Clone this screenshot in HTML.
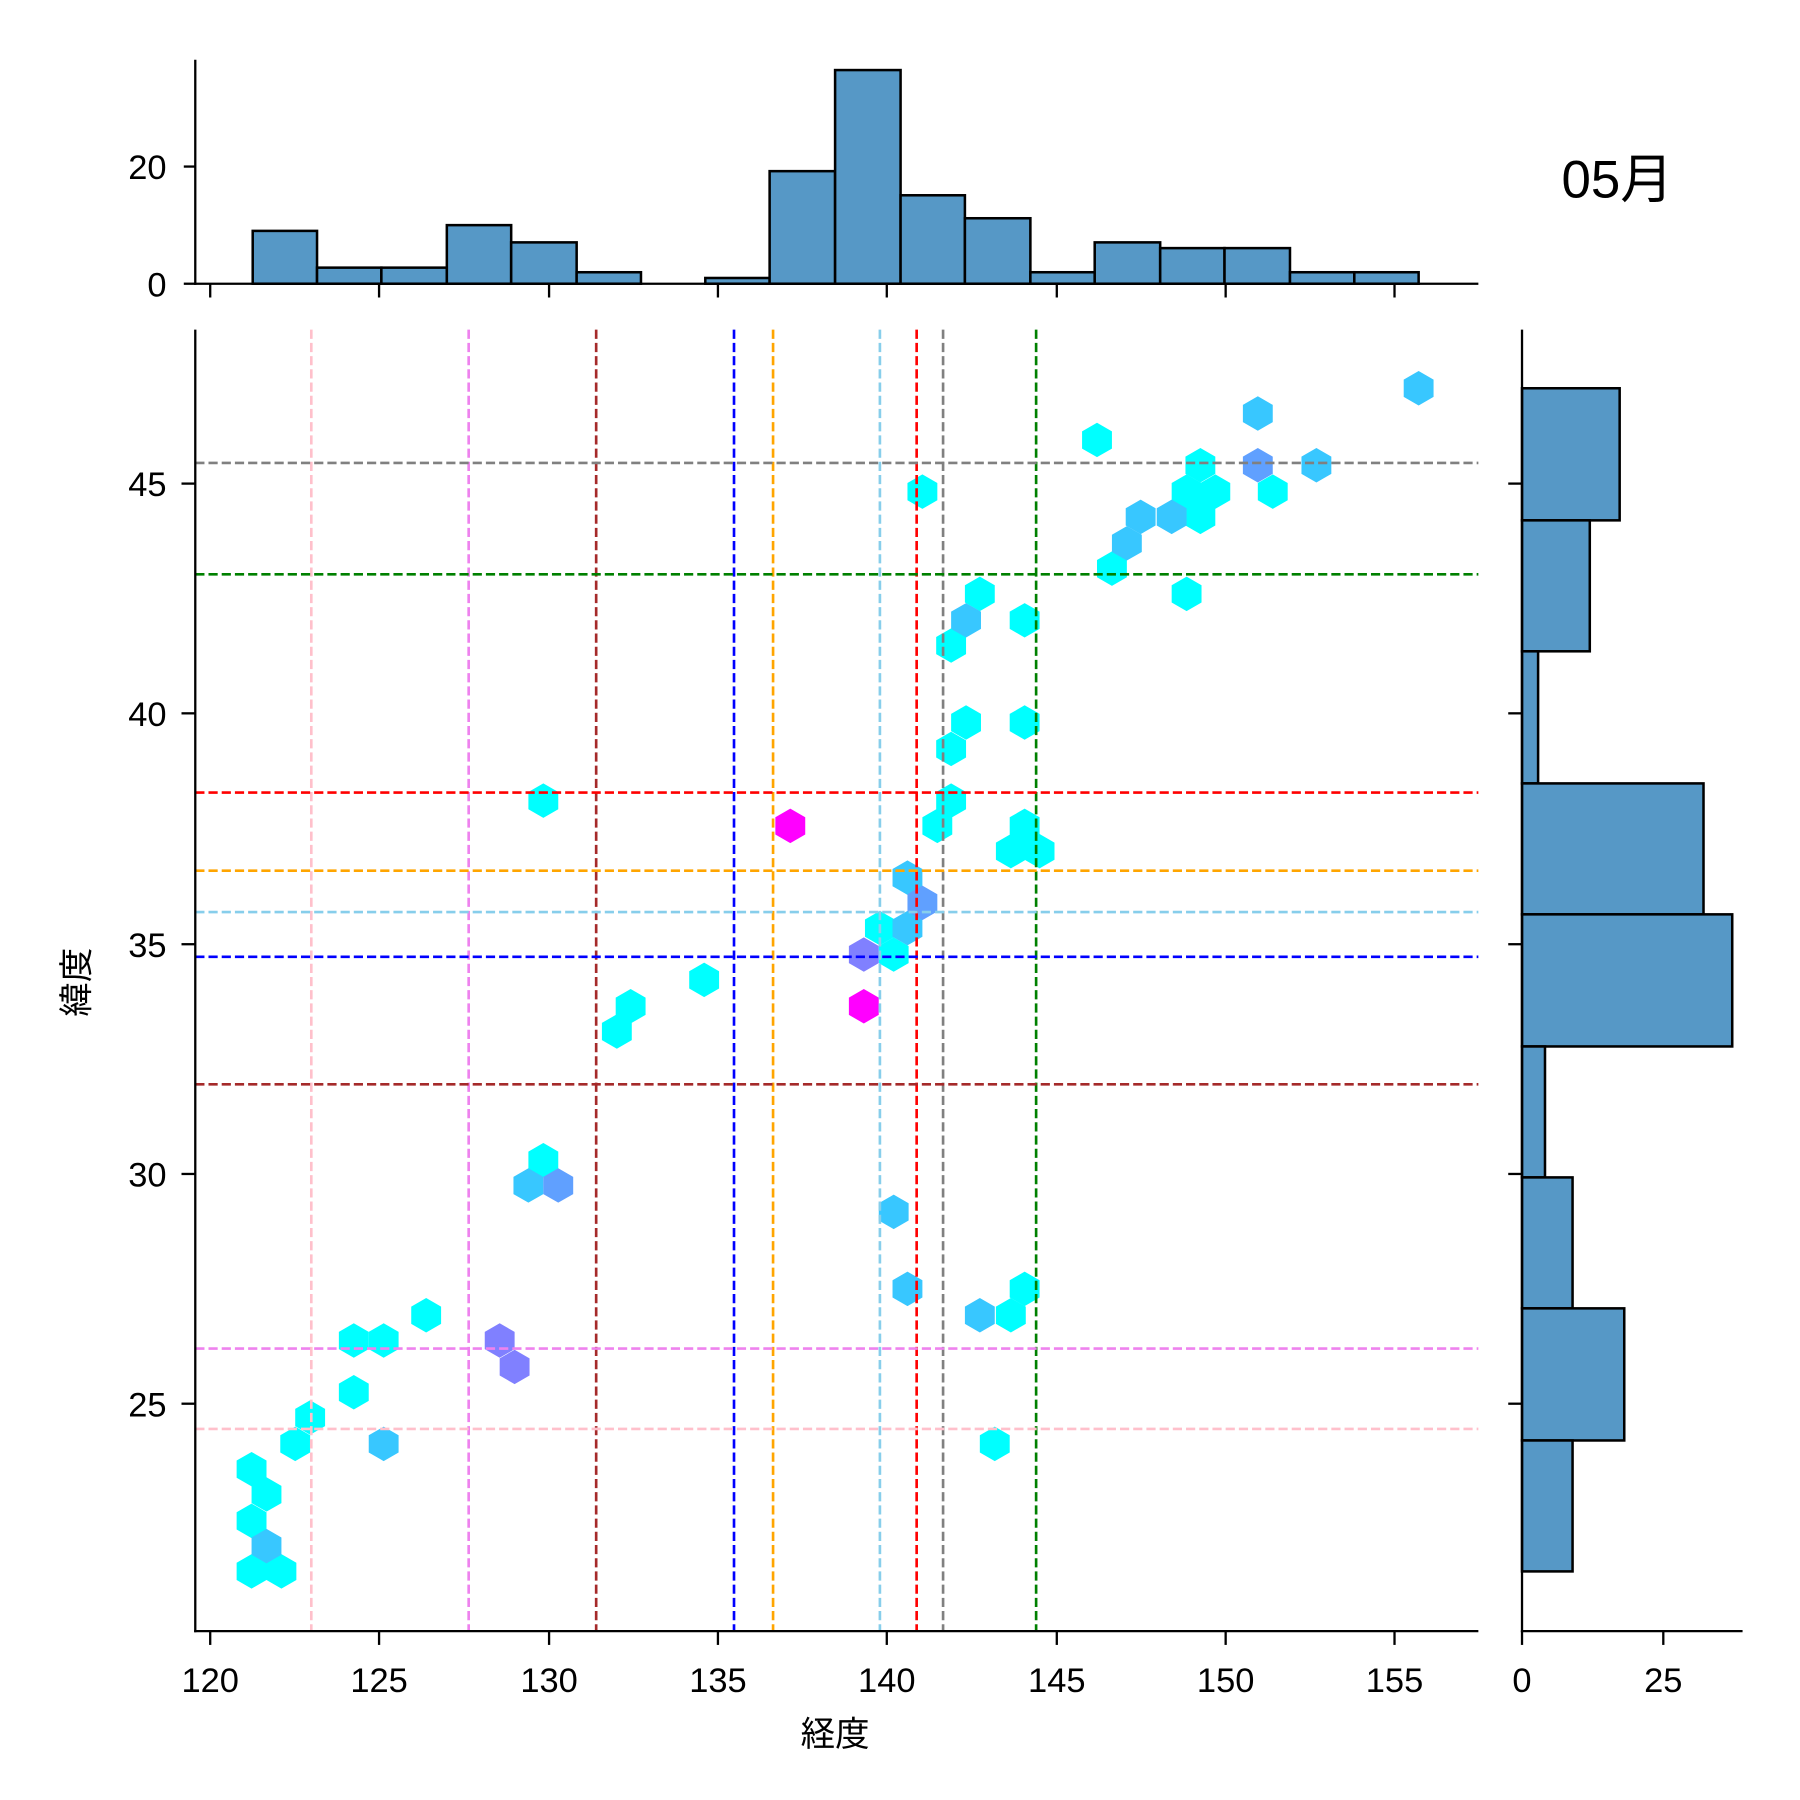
<!DOCTYPE html>
<html><head><meta charset="utf-8"><style>html,body{margin:0;padding:0;background:#fff}svg{display:block}</style></head>
<body>
<svg xmlns="http://www.w3.org/2000/svg" width="1800" height="1800" viewBox="0 0 1567 1567" font-family="'Liberation Sans','Noto Sans CJK JP',sans-serif">
<defs><polygon id="h" points="0,-15 13,-7.5 13,7.5 0,15 -13,7.5 -13,-7.5"/></defs>
<rect width="1567" height="1567" fill="#fff"/>
<!-- top hist -->
<g fill="#5698c6" stroke="#000" stroke-width="2.2">
<rect x="220" y="201" width="56" height="46"/>
<rect x="276" y="233" width="56" height="14"/>
<rect x="332" y="233" width="57" height="14"/>
<rect x="389" y="196" width="56" height="51"/>
<rect x="445" y="211" width="57" height="36"/>
<rect x="502" y="237" width="56" height="10"/>
<rect x="614" y="242" width="56" height="5"/>
<rect x="670" y="149" width="57" height="98"/>
<rect x="727" y="61" width="57" height="186"/>
<rect x="784" y="170" width="56" height="77"/>
<rect x="840" y="190" width="57" height="57"/>
<rect x="897" y="237" width="56" height="10"/>
<rect x="953" y="211" width="57" height="36"/>
<rect x="1010" y="216" width="56" height="31"/>
<rect x="1066" y="216" width="57" height="31"/>
<rect x="1123" y="237" width="56" height="10"/>
<rect x="1179" y="237" width="56" height="10"/>
</g>
<g stroke="#000" stroke-width="2">
<line x1="170" y1="52" x2="170" y2="248"/><line x1="169" y1="247" x2="1287" y2="247"/>
<line x1="160" y1="145" x2="170" y2="145"/><line x1="160" y1="247" x2="170" y2="247"/>
<line x1="183" y1="247" x2="183" y2="259"/><line x1="330" y1="247" x2="330" y2="259"/><line x1="478" y1="247" x2="478" y2="259"/><line x1="625" y1="247" x2="625" y2="259"/><line x1="772" y1="247" x2="772" y2="259"/><line x1="920" y1="247" x2="920" y2="259"/><line x1="1067" y1="247" x2="1067" y2="259"/><line x1="1214" y1="247" x2="1214" y2="259"/>
</g>
<g font-size="30" text-anchor="end"><text x="145" y="156">20</text><text x="145" y="258">0</text></g>
<text x="1408" y="172" font-size="46" text-anchor="middle">05月</text>
<!-- right hist -->
<g fill="#5698c6" stroke="#000" stroke-width="2.2">
<rect x="1325" y="338" width="85" height="115"/>
<rect x="1325" y="453" width="59" height="114"/>
<rect x="1325" y="567" width="14" height="115"/>
<rect x="1325" y="682" width="158" height="114"/>
<rect x="1325" y="796" width="183" height="115"/>
<rect x="1325" y="911" width="20" height="114"/>
<rect x="1325" y="1025" width="44" height="114"/>
<rect x="1325" y="1139" width="89" height="115"/>
<rect x="1325" y="1254" width="44" height="114"/>
</g>
<g stroke="#000" stroke-width="2">
<line x1="1325" y1="287" x2="1325" y2="1421"/><line x1="1324" y1="1420" x2="1517" y2="1420"/>
<line x1="1313" y1="421" x2="1325" y2="421"/><line x1="1313" y1="621" x2="1325" y2="621"/><line x1="1313" y1="822" x2="1325" y2="822"/><line x1="1313" y1="1022" x2="1325" y2="1022"/><line x1="1313" y1="1222" x2="1325" y2="1222"/>
<line x1="1325" y1="1420" x2="1325" y2="1432"/><line x1="1448" y1="1420" x2="1448" y2="1432"/>
</g>
<g font-size="30" text-anchor="middle"><text x="1325" y="1473">0</text><text x="1448" y="1473">25</text></g>
<!-- hexbins -->
<g fill="#0ff">
<use href="#h" x="955" y="383"/><use href="#h" x="1045" y="405"/><use href="#h" x="1033" y="428"/><use href="#h" x="1058" y="428"/><use href="#h" x="1045" y="450"/><use href="#h" x="1108" y="428"/><use href="#h" x="968" y="495"/><use href="#h" x="1033" y="517"/><use href="#h" x="803" y="428"/><use href="#h" x="853" y="517"/><use href="#h" x="828" y="562"/><use href="#h" x="892" y="540"/><use href="#h" x="841" y="629"/><use href="#h" x="828" y="652"/><use href="#h" x="892" y="629"/><use href="#h" x="828" y="697"/><use href="#h" x="816" y="719"/><use href="#h" x="892" y="719"/><use href="#h" x="880" y="741"/><use href="#h" x="905" y="741"/><use href="#h" x="473" y="697"/><use href="#h" x="766" y="808"/><use href="#h" x="778" y="831"/><use href="#h" x="613" y="853"/><use href="#h" x="549" y="876"/><use href="#h" x="537" y="898"/><use href="#h" x="473" y="1010"/><use href="#h" x="880" y="1145"/><use href="#h" x="892" y="1122"/><use href="#h" x="371" y="1145"/><use href="#h" x="308" y="1167"/><use href="#h" x="334" y="1167"/><use href="#h" x="308" y="1212"/><use href="#h" x="270" y="1234"/><use href="#h" x="257" y="1257"/><use href="#h" x="866" y="1257"/><use href="#h" x="219" y="1279"/><use href="#h" x="232" y="1301"/><use href="#h" x="219" y="1324"/><use href="#h" x="219" y="1368"/><use href="#h" x="245" y="1368"/>
</g>
<g fill="#38c7ff">
<use href="#h" x="1235" y="338"/><use href="#h" x="1095" y="360"/><use href="#h" x="1146" y="405"/><use href="#h" x="1020" y="450"/><use href="#h" x="993" y="450"/><use href="#h" x="981" y="473"/><use href="#h" x="841" y="540"/><use href="#h" x="790" y="764"/><use href="#h" x="790" y="808"/><use href="#h" x="460" y="1032"/><use href="#h" x="778" y="1055"/><use href="#h" x="790" y="1122"/><use href="#h" x="853" y="1145"/><use href="#h" x="334" y="1257"/><use href="#h" x="232" y="1346"/>
</g>
<g fill="#60a0ff"><use href="#h" x="1095" y="405"/><use href="#h" x="803" y="786"/><use href="#h" x="486" y="1032"/></g>
<g fill="#8080ff"><use href="#h" x="752" y="831"/><use href="#h" x="435" y="1167"/><use href="#h" x="448" y="1190"/></g>
<g fill="#f0f"><use href="#h" x="688" y="719"/><use href="#h" x="752" y="876"/></g>
<!-- dashed lines -->
<g stroke-width="2.3" stroke-dasharray="8,3.5" fill="none">
<line x1="271" y1="287" x2="271" y2="1420" stroke="pink"/>
<line x1="408" y1="287" x2="408" y2="1420" stroke="violet"/>
<line x1="519" y1="287" x2="519" y2="1420" stroke="brown"/>
<line x1="639" y1="287" x2="639" y2="1420" stroke="blue"/>
<line x1="673" y1="287" x2="673" y2="1420" stroke="orange"/>
<line x1="766" y1="287" x2="766" y2="1420" stroke="skyblue"/>
<line x1="798" y1="287" x2="798" y2="1420" stroke="red"/>
<line x1="821" y1="287" x2="821" y2="1420" stroke="gray"/>
<line x1="902" y1="287" x2="902" y2="1420" stroke="green"/>
<line x1="170" y1="403" x2="1287" y2="403" stroke="gray"/>
<line x1="170" y1="500" x2="1287" y2="500" stroke="green"/>
<line x1="170" y1="690" x2="1287" y2="690" stroke="red"/>
<line x1="170" y1="758" x2="1287" y2="758" stroke="orange"/>
<line x1="170" y1="794" x2="1287" y2="794" stroke="skyblue"/>
<line x1="170" y1="833" x2="1287" y2="833" stroke="blue"/>
<line x1="170" y1="944" x2="1287" y2="944" stroke="brown"/>
<line x1="170" y1="1174" x2="1287" y2="1174" stroke="violet"/>
<line x1="170" y1="1244" x2="1287" y2="1244" stroke="pink"/>
</g>
<!-- main axes -->
<g stroke="#000" stroke-width="2">
<line x1="170" y1="287" x2="170" y2="1421"/><line x1="169" y1="1420" x2="1287" y2="1420"/>
<line x1="158" y1="421" x2="170" y2="421"/><line x1="158" y1="621" x2="170" y2="621"/><line x1="158" y1="822" x2="170" y2="822"/><line x1="158" y1="1022" x2="170" y2="1022"/><line x1="158" y1="1222" x2="170" y2="1222"/>
<line x1="183" y1="1420" x2="183" y2="1432"/><line x1="330" y1="1420" x2="330" y2="1432"/><line x1="478" y1="1420" x2="478" y2="1432"/><line x1="625" y1="1420" x2="625" y2="1432"/><line x1="772" y1="1420" x2="772" y2="1432"/><line x1="920" y1="1420" x2="920" y2="1432"/><line x1="1067" y1="1420" x2="1067" y2="1432"/><line x1="1214" y1="1420" x2="1214" y2="1432"/>
</g>
<g font-size="30" text-anchor="end"><text x="145" y="432">45</text><text x="145" y="632">40</text><text x="145" y="833">35</text><text x="145" y="1033">30</text><text x="145" y="1233">25</text></g>
<g font-size="30" text-anchor="middle"><text x="183" y="1473">120</text><text x="330" y="1473">125</text><text x="478" y="1473">130</text><text x="625" y="1473">135</text><text x="772" y="1473">140</text><text x="920" y="1473">145</text><text x="1067" y="1473">150</text><text x="1214" y="1473">155</text></g>
<text x="727" y="1520" font-size="30" text-anchor="middle">経度</text>
<text transform="translate(77,855) rotate(-90)" font-size="30" text-anchor="middle">緯度</text>
</svg>
</body></html>
